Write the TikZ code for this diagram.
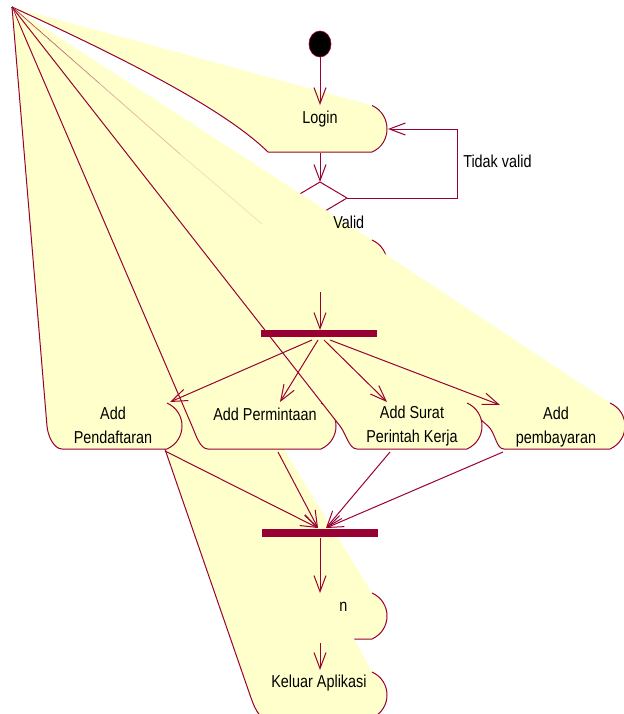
\documentclass[tikz,border=0pt]{standalone}
\usepackage{fontspec}
\setmainfont{Liberation Sans}
\usetikzlibrary{arrows.meta}
\definecolor{roseR}{HTML}{990033}
\definecolor{roseY}{HTML}{FFFFCB}
\newcommand{\lbl}[1]{\scalebox{1}[1.2]{\begin{tabular}[b]{@{}c@{}}#1\end{tabular}}}
% activity shape: right arc x, middle y, left x of bottom edge, corner x, corner control x, corner control y
\newcommand{\actshape}[6]{%
  \fill[roseY] (O) -- (#1,#2-23) .. controls (#1+20,#2-14) and (#1+20,#2+14) .. (#1,#2+23) -- (#3,#2+23) .. controls (#3-8,#2+23) and (#5,#6) .. (#4,#2) -- cycle;
  \draw[actline] (#1,#2-23) .. controls (#1+20,#2-14) and (#1+20,#2+14) .. (#1,#2+23) -- (#3,#2+23) .. controls (#3-8,#2+23) and (#5,#6) .. (#4,#2) -- (O);
}
\begin{document}
\begin{tikzpicture}[x=0.75pt,y=-0.75pt,
  actline/.style={draw=roseR, line width=0.75pt, line join=round},
  arr/.style={draw=roseR, line width=0.75pt, -{Straight Barb[length=12pt,width=9pt]}},
  lblnode/.style={anchor=base, inner sep=0pt, text=black},
  font=\fontsize{10.8}{15}\selectfont]
\useasboundingbox (0,0) rectangle (624,714);
\clip (0,0) rectangle (624,714);
\coordinate (O) at (12,7);
% connector end points
\coordinate (st) at (320,57);
\coordinate (loginT) at (320,105);
\coordinate (loginB) at (320,153);
\coordinate (loginR) at (388,129);
\coordinate (decT) at (320,182);
\coordinate (decR) at (347,198);
\coordinate (decB) at (320,214);
\coordinate (decL) at (293,198);
\coordinate (loopA) at (457,198);
\coordinate (loopB) at (457,129);
\coordinate (h3T) at (320,240);
\coordinate (h3B) at (320,292);
\coordinate (b1T) at (320,330);
\coordinate (b1a) at (312,340);
\coordinate (b1b) at (318,340);
\coordinate (b1c) at (324,340);
\coordinate (b1d) at (330,340);
\coordinate (pdT) at (170,402);
\coordinate (pmT) at (280,402);
\coordinate (srT) at (387,402);
\coordinate (pbT) at (500,405);
\coordinate (pdB) at (165,451);
\coordinate (pmB) at (278,452);
\coordinate (srB) at (390,452);
\coordinate (pbB) at (503,452);
\coordinate (b2a) at (318,528);
\coordinate (b2b) at (326,528);
\coordinate (b2B) at (320,538);
\coordinate (h5T) at (320,593);
\coordinate (h5B) at (320,643);
\coordinate (kT) at (320,670);
% Login
\fill[roseY] (O) -- (372,105.5) .. controls (392,114.5) and (392,143.5) .. (372,152) -- (268,152) .. controls (230,115) and (150,70) .. (O) -- cycle;
\draw[actline] (372,105.5) .. controls (392,114.5) and (392,143.5) .. (372,152) -- (268,152) .. controls (230,115) and (150,70) .. (O);
% start
\filldraw[fill=black, draw=roseR, line width=0.5pt] (320,44) ellipse [x radius=8.25pt, y radius=9.75pt];
% decision
\draw[actline] (decT) -- (decR) -- (decB) -- (decL) -- cycle;
\draw[arr] (st) -- (loginT);
\draw[arr] (loginB) -- (decT);
\draw[arr] (decR) -- (loopA) -- (loopB) -- (loginR);
\draw[arr] (decB) -- (h3T);
% hidden activity under the fill
\actshape{372}{263}{268}{253}{256}{272}
% Add pembayaran
\actshape{610}{426}{504}{488}{495.5}{432.6}
% hidden activity before Keluar
\actshape{372}{616}{268}{253}{256}{625}
% Keluar Aplikasi
\actshape{372}{695}{266}{250}{253.3}{704.5}
% Add Permintaan
\actshape{321}{426}{208}{192}{196}{435.2}
% Add Pendaftaran
\actshape{167}{426}{62}{47}{47.8}{436}
% Add Surat Perintah Kerja
\actshape{467}{426}{357}{340}{346.2}{433.9}
\draw[roseR, line width=0.6pt, draw opacity=0.35] (O) -- (100,84);
\draw[roseR, line width=0.6pt, draw opacity=0.25] (100,84) -- (180,154);
\draw[roseR, line width=0.6pt, draw opacity=0.12] (180,154) -- (262,224);
% bars
\fill[roseR] (261,330) rectangle (377,337);
\fill[roseR] (262,529) rectangle (378,537);
% arrows
\draw[arr] (h3B) -- (b1T);
\draw[arr] (b1a) -- (pdT);
\draw[arr] (b1b) -- (pmT);
\draw[arr] (b1c) -- (srT);
\draw[arr] (b1d) -- (pbT);
\draw[arr] (pdB) -- (b2a);
\draw[arr] (pmB) -- (b2a);
\draw[arr] (srB) -- (b2b);
\draw[arr] (pbB) -- (b2b);
\draw[arr] (b2B) -- (h5T);
\draw[arr] (h5B) -- (kT);
% texts
\node[lblnode] (tLogin) at (320,123.3) {\lbl{Login}};
\node[lblnode, anchor=base west] (tTidak) at (463,167.7) {\lbl{Tidak valid}};
\node[lblnode, anchor=base west] (tValid) at (333,228) {\lbl{Valid}};
\node[lblnode] (tPd) at (113,443) {\lbl{Add\\Pendaftaran}};
\node[lblnode] (tPm) at (265,420) {\lbl{Add Permintaan}};
\node[lblnode] (tSr) at (412,442) {\lbl{Add Surat\\Perintah Kerja}};
\node[lblnode] (tPb) at (556,443) {\lbl{Add\\pembayaran}};
\node[lblnode, anchor=base west] (tN) at (339,611.7) {\lbl{n}};
\node[lblnode] (tK) at (319,687.7) {\lbl{Keluar Aplikasi}};
\end{tikzpicture}
\end{document}
